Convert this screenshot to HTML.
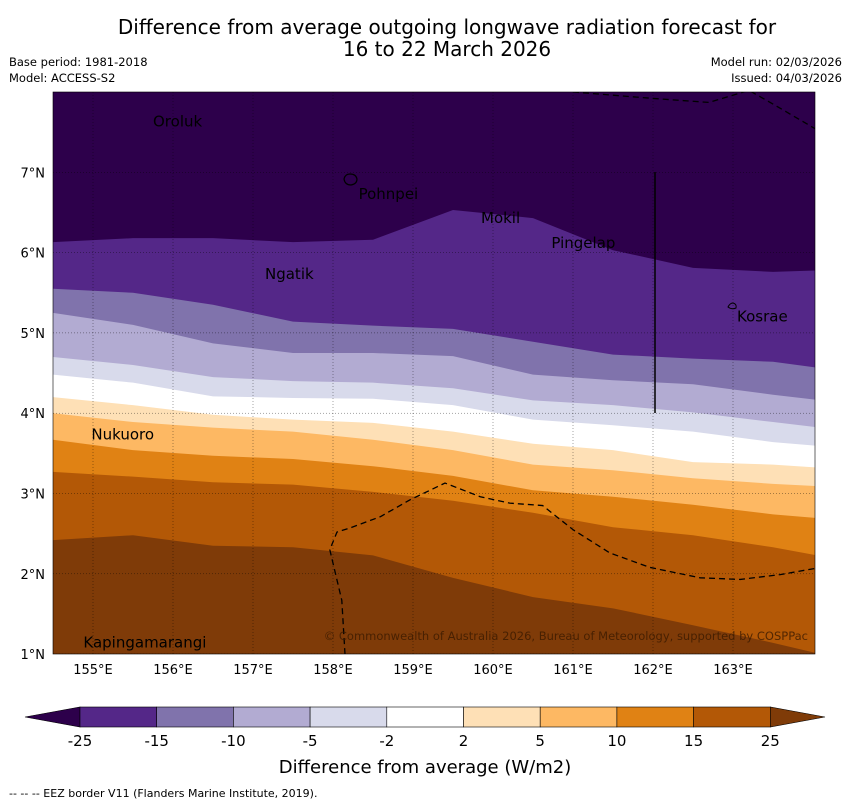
<!DOCTYPE html>
<html><head><meta charset="utf-8"><style>
body{margin:0;background:#fff;}
svg{display:block;font-family:"DejaVu Sans","Liberation Sans",sans-serif;}
</style></head><body>
<svg id="chart" width="850" height="804" viewBox="0 0 850 804">
<text x="447" y="34" text-anchor="middle" font-size="20">Difference from average outgoing longwave radiation forecast for</text>
<text x="447" y="56" text-anchor="middle" font-size="20">16 to 22 March 2026</text>
<text x="9" y="66" font-size="11.5">Base period: 1981-2018</text>
<text x="9" y="82" font-size="11.5">Model: ACCESS-S2</text>
<text x="842" y="66" font-size="11.5" text-anchor="end">Model run: 02/03/2026</text>
<text x="842" y="82" font-size="11.5" text-anchor="end">Issued: 04/03/2026</text>
<defs><clipPath id="mapclip"><rect x="53" y="92" width="762" height="562"/></clipPath></defs>
<g id="map" clip-path="url(#mapclip)"></g>
<rect x="53" y="92" width="762" height="562" fill="none" stroke="#000" stroke-width="0.6"/>
<g id="axes"></g>
<g id="cbar"></g>
<text x="425" y="773" text-anchor="middle" font-size="18">Difference from average (W/m2)</text>
<text x="9" y="797" font-size="11">--  --  -- EEZ border V11 (Flanders Marine Institute, 2019).</text>
</svg>
<script>
const lons=[154.5,155.5,156.5,157.5,158.5,159.5,160.5,161.5,162.5,163.5,164.1];
const boundaries=[
[6.13,6.18,6.18,6.13,6.16,6.53,6.43,6.03,5.81,5.76,5.78],
[5.55,5.50,5.35,5.14,5.09,5.05,4.89,4.73,4.68,4.64,4.56],
[5.25,5.10,4.87,4.75,4.75,4.71,4.48,4.41,4.36,4.23,4.16],
[4.70,4.60,4.45,4.40,4.38,4.31,4.16,4.10,4.01,3.89,3.82],
[4.48,4.38,4.21,4.19,4.18,4.10,3.92,3.85,3.77,3.64,3.59],
[4.20,4.10,3.98,3.92,3.88,3.77,3.62,3.54,3.39,3.36,3.32],
[4.00,3.89,3.82,3.77,3.67,3.54,3.36,3.29,3.19,3.12,3.09],
[3.67,3.54,3.47,3.43,3.34,3.22,3.04,2.96,2.86,2.74,2.69],
[3.27,3.21,3.14,3.11,3.02,2.91,2.76,2.58,2.48,2.33,2.22],
[2.42,2.48,2.35,2.33,2.23,1.95,1.71,1.57,1.36,1.14,1.00]];
const colors=["#2d004b","#542788","#8073ac","#b2abd2","#d8daeb","#ffffff","#fee0b6","#fdb863","#e08214","#b35806","#7f3b08"];
const levels=["-25","-15","-10","-5","-2","2","5","10","15","25"];
const xTicks=[155,156,157,158,159,160,161,162,163];
const yTicks=[1,2,3,4,5,6,7];
const places=[["Oroluk",155.75,7.57],["Pohnpei",158.32,6.67],["Mokil",159.85,6.37],["Pingelap",160.73,6.06],["Ngatik",157.15,5.67],["Kosrae",163.05,5.14],["Nukuoro",154.98,3.67],["Kapingamarangi",154.88,1.08]];
const eezLower=[[158.15,1.0],[158.11,1.67],[157.96,2.30],[158.05,2.52],[158.21,2.57],[158.59,2.71],[158.96,2.92],[159.4,3.13],[159.84,2.96],[160.21,2.88],[160.62,2.85],[161.0,2.55],[161.46,2.26],[161.96,2.08],[162.59,1.95],[163.09,1.93],[163.59,1.99],[164.1,2.08]];
const eezTop=[[161.0,8.0],[162.0,7.92],[162.7,7.87],[163.2,8.02],[163.5,7.85],[164.1,7.5]];
const NS="http://www.w3.org/2000/svg";
const X=l=>53+80*(l-154.5), Y=a=>92+80.3*(8-a);
function mk(t,a,p){const e=document.createElementNS(NS,t);for(const k in a)e.setAttribute(k,a[k]);p.appendChild(e);return e;}
const map=document.getElementById('map');
const bg=mk('rect',{x:53,y:92,width:762,height:562,fill:colors[0]},map);


boundaries.forEach((b,i)=>{
 let d='M'+lons.map((l,j)=>X(l)+','+Y(b[j])).join(' L')+' L'+X(164.1)+',660 L'+X(154.5)+',660 Z';
 const p=mk('path',{d:d,fill:colors[i+1]},map);
 
 
});
const ax=document.getElementById('axes');
xTicks.forEach(t=>{
 const l=mk('line',{x1:X(t),x2:X(t),y1:92,y2:654,stroke:'#000','stroke-width':0.5,'stroke-dasharray':'1,2',opacity:0.7},map);
 
 
 const tx=mk('text',{x:X(t),y:674,'text-anchor':'middle','font-size':13},ax);
 tx.textContent=t+'°E';
 
 
});
yTicks.forEach(t=>{
 const l=mk('line',{x1:53,x2:815,y1:Y(t),y2:Y(t),stroke:'#000','stroke-width':0.5,'stroke-dasharray':'1,2',opacity:0.7},map);
 
 
 const tx=mk('text',{x:45,y:Y(t)+5,'text-anchor':'end','font-size':13},ax);
 tx.textContent=t+'°N';
 
 
});
[eezLower,eezTop].forEach(pts=>{
 const p=mk('polyline',{points:pts.map(q=>X(q[0])+','+Y(q[1])).join(' '),fill:'none',stroke:'#000','stroke-width':1.3,'stroke-dasharray':'6,4'},map);
 
 
});
const vl=mk('line',{x1:655,x2:655,y1:172,y2:413,stroke:'#000','stroke-width':1.5},map);


const isl=mk('path',{d:'M344,179 q1,-5 6,-5 q6,0 7,5 q0,5 -6,6 q-6,0 -7,-6 z',fill:'none',stroke:'#000','stroke-width':1.2},map);


const ks=mk('path',{d:'M728,307 q2,-4 5,-4 q4,1 3,5 q-4,2 -8,-1 z',fill:'none',stroke:'#000','stroke-width':1},map);


places.forEach(p=>{
 const t=mk('text',{x:X(p[1]),y:Y(p[2]),'font-size':15},map);
 t.textContent=p[0];
 
 
});
const cp=mk('text',{x:808,y:640,'text-anchor':'end','font-size':11.5,fill:'#3a1a00',opacity:0.8},map);
cp.textContent='© Commonwealth of Australia 2026, Bureau of Meteorology, supported by COSPPac';


const cb=document.getElementById('cbar');
const cx0=80,cy=707,ch=20;
const tl=mk('polygon',{points:`${cx0},${cy} ${cx0},${cy+ch} 25,${cy+ch/2}`,fill:colors[0],stroke:'#000','stroke-width':0.6},cb);


for(let i=0;i<9;i++){
 const r=mk('rect',{x:cx0+i*76.7,y:cy,width:76.7,height:ch,fill:colors[i+1],stroke:'#000','stroke-width':0.6},cb);
 
 
}
const xe=cx0+9*76.7;
const tr=mk('polygon',{points:`${xe},${cy} ${xe},${cy+ch} 825,${cy+ch/2}`,fill:colors[10],stroke:'#000','stroke-width':0.6},cb);


levels.forEach((lv,i)=>{
 const t=mk('text',{x:cx0+i*76.7,y:746,'text-anchor':'middle','font-size':15},cb);
 t.textContent=lv;
 
 
});
</script>
</body></html>
